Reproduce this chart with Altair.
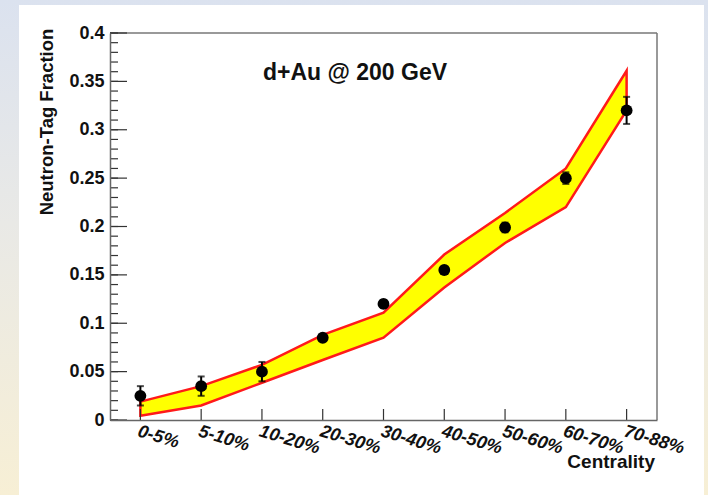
import altair as alt
import pandas as pd

# Centrality classes and measured neutron-tag fractions
centrality = ["0-5%", "5-10%", "10-20%", "20-30%", "30-40%",
              "40-50%", "50-60%", "60-70%", "70-88%"]
fraction = [0.025, 0.035, 0.050, 0.085, 0.120, 0.155, 0.199, 0.250, 0.320]
fraction_err = [0.010, 0.010, 0.010, 0.003, 0.004, 0.003, 0.005, 0.006, 0.014]

# Model band (lower / upper edge)
band_low = [0.0045, 0.015, 0.0385, 0.062, 0.085, 0.137, 0.183, 0.220, 0.320]
band_high = [0.019, 0.035, 0.057, 0.088, 0.111, 0.171, 0.214, 0.260, 0.361]

# Axis ticks
y_major = [0, 0.05, 0.1, 0.15, 0.2, 0.25, 0.3, 0.35, 0.4]
y_minor = [i / 100 for i in range(0, 41)]

W, H = 547, 387
FONT = "Liberation Sans"

df = pd.DataFrame({
    "cent": centrality,
    "frac": fraction,
    "lo": [f - e for f, e in zip(fraction, fraction_err)],
    "hi": [f + e for f, e in zip(fraction, fraction_err)],
    "band_low": band_low,
    "band_high": band_high,
})

x_scale = alt.Scale(type="point", domain=centrality, padding=0.5)
y_scale = alt.Scale(domain=[0, 0.4], nice=False, zero=True)

x_enc = alt.X("cent:N", scale=x_scale, sort=centrality,
              axis=alt.Axis(title=None, labelAngle=17, labelAlign="left",
                            labelBaseline="top", labelFont=FONT,
                            labelFontSize=18, labelFontStyle="italic",
                            labelFontWeight="bold", labelColor="#111",
                            labelPadding=2, ticks=False, domainColor="#666",
                            domainWidth=1.5, grid=False, zindex=2))
y_axis = alt.Axis(title=None, values=y_major, labelExpr="toString(datum.value)",
                  labelFont=FONT, labelFontSize=18, labelFontWeight="bold",
                  labelColor="#111", ticks=False, labelPadding=6,
                  domainColor="#666", domainWidth=1.5, grid=False, zindex=2)

# page background with soft vertical gradient and white panel
bg = alt.Chart(pd.DataFrame({"a": [0]})).mark_rect(
    fill={"gradient": "linear", "x1": 0, "y1": 0, "x2": 0, "y2": 1,
          "stops": [{"offset": 0, "color": "#dbe2ef"},
                    {"offset": 0.45, "color": "#e9e9e6"},
                    {"offset": 1, "color": "#f7efd5"}]}
).encode(x=alt.value(-110), x2=alt.value(W + 51),
         y=alt.value(-33), y2=alt.value(H + 75))

panel = alt.Chart(pd.DataFrame({"a": [0]})).mark_rect(fill="white").encode(
    x=alt.value(-91), x2=alt.value(594), y=alt.value(-28), y2=alt.value(H + 80))

# top and right edges of the frame
frame_top = alt.Chart(pd.DataFrame({"a": [0]})).mark_rule(
    color="#777", strokeWidth=1.5).encode(
    x=alt.value(0), x2=alt.value(W), y=alt.value(0))
frame_right = alt.Chart(pd.DataFrame({"a": [0]})).mark_rule(
    color="#777", strokeWidth=1.5).encode(
    x=alt.value(W), y=alt.value(0), y2=alt.value(H))

base = alt.Chart(df)

band = base.mark_area(fill="#ffff00", stroke="#ff1a1a", strokeWidth=2.5,
                      opacity=1).encode(
    x=x_enc,
    y=alt.Y("band_low:Q", scale=y_scale, axis=y_axis),
    y2="band_high:Q",
)

err = base.mark_rule(color="black", strokeWidth=2).encode(
    x=alt.X("cent:N", scale=x_scale, sort=centrality),
    y=alt.Y("lo:Q", scale=y_scale), y2="hi:Q")
cap_lo = base.mark_tick(color="black", orient="horizontal", size=7,
                        thickness=2).encode(
    x=alt.X("cent:N", scale=x_scale, sort=centrality),
    y=alt.Y("lo:Q", scale=y_scale))
cap_hi = base.mark_tick(color="black", orient="horizontal", size=7,
                        thickness=2).encode(
    x=alt.X("cent:N", scale=x_scale, sort=centrality),
    y=alt.Y("hi:Q", scale=y_scale))
pts = base.mark_circle(color="black", size=140, opacity=1).encode(
    x=alt.X("cent:N", scale=x_scale, sort=centrality),
    y=alt.Y("frac:Q", scale=y_scale))

# inward tick marks on the y axis
ymaj = alt.Chart(pd.DataFrame({"v": y_major})).mark_rule(
    color="#333", strokeWidth=1.2).encode(
    y=alt.Y("v:Q", scale=y_scale), x=alt.value(0), x2=alt.value(17))
ymin = alt.Chart(pd.DataFrame({"v": y_minor})).mark_rule(
    color="#333", strokeWidth=1.2).encode(
    y=alt.Y("v:Q", scale=y_scale), x=alt.value(0), x2=alt.value(8))
# inward tick marks on the x axis
xt = alt.Chart(pd.DataFrame({"c": centrality})).mark_rule(
    color="#333", strokeWidth=1.2).encode(
    x=alt.X("c:N", scale=x_scale, sort=centrality),
    y=alt.value(H), y2=alt.value(H - 11))

title = alt.Chart(pd.DataFrame({"t": ["d+Au @ 200 GeV"]})).mark_text(
    font=FONT, fontSize=23, fontWeight="bold", color="#111",
    align="center", baseline="middle").encode(
    text="t:N", x=alt.value(245), y=alt.value(40))

ytitle = alt.Chart(pd.DataFrame({"t": ["Neutron-Tag Fraction"]})).mark_text(
    font=FONT, fontSize=18.5, fontWeight="bold", color="#111", angle=270,
    align="center", baseline="middle").encode(
    text="t:N", x=alt.value(-63), y=alt.value(89))

xtitle = alt.Chart(pd.DataFrame({"t": ["Centrality"]})).mark_text(
    font=FONT, fontSize=19, fontWeight="bold", color="#111",
    align="right", baseline="middle").encode(
    text="t:N", x=alt.value(545), y=alt.value(42 + H))

chart = alt.layer(
    bg, panel, frame_top, frame_right, band, err, cap_lo, cap_hi, pts,
    ymaj, ymin, xt, title, ytitle, xtitle
).properties(
    width=W, height=H,
    autosize=alt.AutoSizeParams(type="none"),
    padding={"left": 110, "top": 33, "right": 51, "bottom": 75},
).configure_view(
    stroke=None
).configure(background="white")

chart.save("out.html", embed_options={"renderer": "svg", "actions": False})
